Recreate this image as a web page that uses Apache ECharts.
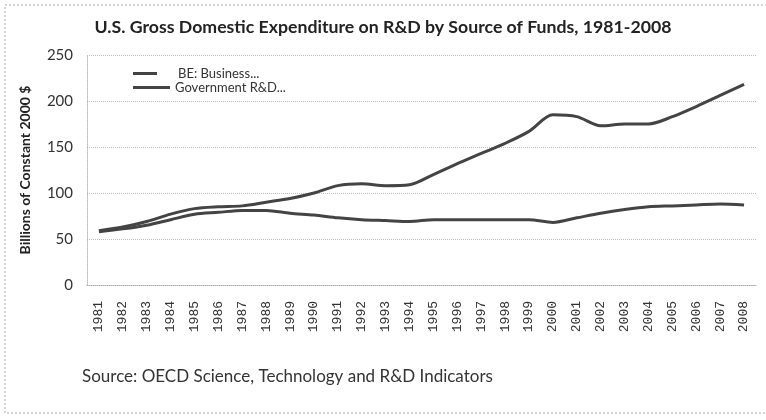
<!DOCTYPE html>
<html>
<head>
<meta charset="utf-8">
<script src="https://cdn.jsdelivr.net/npm/echarts@6/dist/echarts.min.js"></script>
<style>
  html, body { margin: 0; padding: 0; background: #fff; }
  #main { width: 766px; height: 420px; }
</style>
</head>
<body>
<div id="main"></div>
<script>
var years = ['1981','1982','1983','1984','1985','1986','1987','1988','1989','1990',
  '1991','1992','1993','1994','1995','1996','1997','1998','1999','2000',
  '2001','2002','2003','2004','2005','2006','2007','2008'];
// billions of constant 2000 $
var business = [59, 63, 69, 77, 83, 85, 86, 90, 94, 100,
  108, 110, 108, 109, 120, 132, 143, 154, 167, 185,
  183, 173, 175, 175, 183, 194, 206, 218];
var government = [58, 61, 65, 71, 77, 79, 81, 81, 78, 76,
  73, 71, 70, 69, 71, 71, 71, 71, 71, 68,
  73, 78, 82, 85, 86, 87, 88, 87];

var chart = echarts.init(document.getElementById('main'));
var lineColor = '#444';
var font = 'Lato, "Open Sans", sans-serif';

chart.setOption({
  animation: false,
  backgroundColor: '#fff',
  title: {
    text: 'U.S. Gross Domestic Expenditure on R&D by Source of Funds, 1981-2008',
    left: 'center',
    top: 13,
    textStyle: { fontFamily: font, fontSize: 17.7, fontWeight: 'bold', color: '#222' }
  },
  legend: [
    {
      left: 128,
      top: 62,
      itemWidth: 24,
      itemHeight: 3,
      icon: 'rect',
      textStyle: { fontFamily: font, fontSize: 13, color: '#333', padding: [0, 0, 0, 16] },
      data: ['BE: Business...']
    },
    {
      left: 128,
      top: 76,
      itemWidth: 37,
      itemHeight: 3,
      icon: 'rect',
      textStyle: { fontFamily: font, fontSize: 13, color: '#333' },
      data: ['Government R&D...']
    }
  ],
  grid: { left: 87, right: 10, top: 55, bottom: 135 },
  xAxis: {
    type: 'category',
    data: years,
    boundaryGap: true,
    axisLine: { lineStyle: { color: '#aaa', type: 'dotted' } },
    axisTick: { show: false },
    axisLabel: {
      rotate: 90,
      interval: 0,
      margin: 16,
      fontFamily: '"Liberation Mono", monospace',
      fontSize: 13,
      color: '#333'
    }
  },
  yAxis: {
    type: 'value',
    min: 0,
    max: 250,
    interval: 50,
    name: 'Billions of Constant 2000 $',
    nameLocation: 'middle',
    nameGap: 55,
    nameTextStyle: { fontFamily: font, fontSize: 14, fontWeight: 'bold', color: '#222' },
    axisLine: { show: true, lineStyle: { color: '#bbb', type: 'dotted' } },
    axisTick: { show: false },
    axisLabel: { fontFamily: font, fontSize: 15, color: '#333', margin: 14 },
    splitLine: { lineStyle: { color: '#bbb', type: 'dotted' } }
  },
  graphic: [
    {
      type: 'rect',
      shape: { x: 5, y: 5, width: 800, height: 408 },
      style: { fill: 'none', stroke: '#aaa', lineWidth: 1, lineDash: [2, 2] }
    },
    {
      type: 'text',
      left: 82,
      top: 368,
      style: {
        text: 'Source: OECD Science, Technology and R&D Indicators',
        font: '17px ' + font,
        fill: '#333'
      }
    }
  ],
  series: [
    {
      name: 'BE: Business...',
      type: 'line',
      data: business,
      smooth: 0.3,
      symbol: 'none',
      lineStyle: { color: lineColor, width: 3 },
      itemStyle: { color: lineColor }
    },
    {
      name: 'Government R&D...',
      type: 'line',
      data: government,
      smooth: 0.3,
      symbol: 'none',
      lineStyle: { color: lineColor, width: 3 },
      itemStyle: { color: lineColor }
    }
  ]
});
</script>
</body>
</html>
